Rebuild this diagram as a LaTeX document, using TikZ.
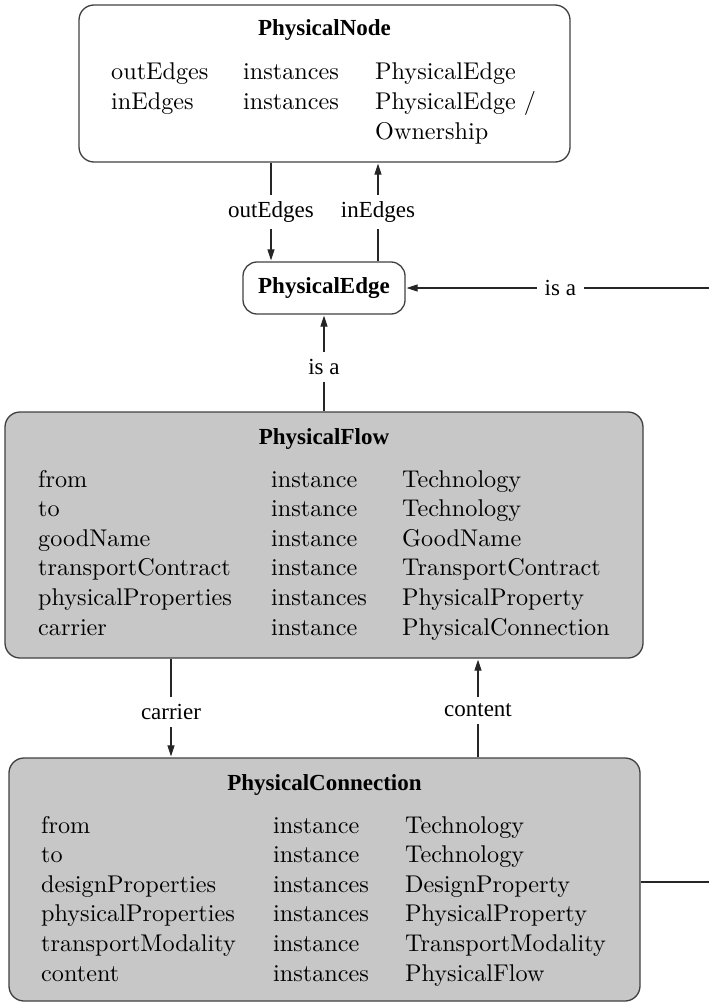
\documentclass[tikz,border=0pt]{standalone}
\usepackage{fontspec}
\usepackage{array}
\newfontfamily\labelfont{Liberation Serif}
% ten-point design size of Latin Modern, scaled up
\newfontfamily\attrfont{lmroman10-regular}[Extension=.otf]
\usetikzlibrary{arrows.meta}

\tikzset{
  classbox/.style={rectangle, rounded corners=15pt, draw=black!75, line width=1.3pt, inner sep=0pt},
  shaded/.style={classbox, fill=black!22},
  title/.style={inner sep=0pt, anchor=base, font=\labelfont\bfseries\fontsize{23}{27}\selectfont},
  attrs/.style={inner sep=0pt, anchor=base west, align=left, font=\attrfont\fontsize{24.2}{29.6}\selectfont},
  conn/.style={draw=black!85, line width=1.2pt},
  arr/.style={conn, -{Triangle[length=11pt,width=7pt]}, shorten >=1pt},
  lbl/.style={fill=white, inner xsep=7.5pt, inner ysep=7pt, font=\labelfont\fontsize{23}{27}\selectfont}
}

\begin{document}
\begin{tikzpicture}[x=1pt, y=-1pt]
\useasboundingbox (0,0) rectangle (709,1003);

% PhysicalNode
\node[classbox, minimum width=491pt, minimum height=157pt] (pn) at (324.5,83.5) {};
\node[title] (pnT) at (324.5,36) {PhysicalNode};
\node[attrs] (pnA) at (111,80) {%
  \begin{tabular}[t]{@{}p{132pt}@{}p{132pt}@{}l@{}}
  outEdges & instances & PhysicalEdge\\
  inEdges  & instances & PhysicalEdge /\\
           &           & Ownership
  \end{tabular}};

% PhysicalEdge
\node[classbox, rounded corners=14pt, minimum width=162pt, minimum height=52pt,
      font=\labelfont\bfseries\fontsize{23}{27}\selectfont] (pe) at (324,288) {PhysicalEdge};

% PhysicalFlow
\node[shaded, minimum width=638pt, minimum height=246pt] (pf) at (324,535) {};
\node[title] (pfT) at (324,444) {PhysicalFlow};
\node[attrs] (pfA) at (38,487) {%
  \begin{tabular}[t]{@{}p{233pt}@{}p{131pt}@{}l@{}}
  from & instance & Technology\\
  to & instance & Technology\\
  goodName & instance & GoodName\\
  transportContract & instance & TransportContract\\
  physicalProperties & instances & PhysicalProperty\\
  carrier & instance & PhysicalConnection
  \end{tabular}};

% PhysicalConnection
\node[shaded, minimum width=631pt, minimum height=243pt] (pc) at (324.5,879.5) {};
\node[title] (pcT) at (324.5,790) {PhysicalConnection};
\node[attrs] (pcA) at (41,833) {%
  \begin{tabular}[t]{@{}p{232pt}@{}p{132pt}@{}l@{}}
  from & instance & Technology\\
  to & instance & Technology\\
  designProperties & instances & DesignProperty\\
  physicalProperties & instances & PhysicalProperty\\
  transportModality & instance & TransportModality\\
  content & instances & PhysicalFlow
  \end{tabular}};

% connector columns and free ends
\coordinate (xOut) at (271,0);
\coordinate (xIn) at (378,0);
\coordinate (xCarrier) at (171,0);
\coordinate (xContent) at (478,0);
\coordinate (isaTop) at (709,288);
\coordinate (isaBottom) at (709,882);

\draw[arr] (pn.south -| xOut) -- node[lbl] {outEdges} (pe.north -| xOut);
\draw[arr] (pe.north -| xIn) -- node[lbl] {inEdges} (pn.south -| xIn);
\draw[arr] (isaTop) -- node[lbl, pos=0.49] {is a} (pe.east);
\draw[arr] (pf.north -| pe.south) -- node[lbl, pos=0.46] {is a} (pe.south);
\draw[arr] (pf.south -| xCarrier) -- node[lbl, pos=0.54] {carrier} (pc.north -| xCarrier);
\draw[arr] (pc.north -| xContent) -- node[lbl, pos=0.475] {content} (pf.south -| xContent);
\draw[conn] (pc.east |- isaBottom) -- (isaBottom);
\end{tikzpicture}
\end{document}
